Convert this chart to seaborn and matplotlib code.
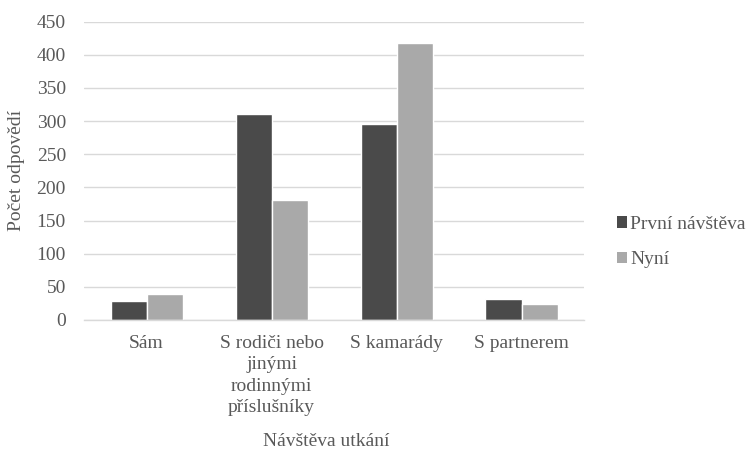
import matplotlib
matplotlib.use("Agg")
import matplotlib.pyplot as plt
import seaborn as sns
import pandas as pd
from matplotlib.patches import Patch

categories = ["Sám", "S rodiči nebo\njinými\nrodinnými\npříslušníky", "S kamarády", "S partnerem"]
prvni = [28, 310, 295, 31]
nyni = [39, 181, 418, 24]
series = ["První návštěva", "Nyní"]
colors = ["#4a4a4a", "#a9a9a9"]
yticks = [0, 50, 100, 150, 200, 250, 300, 350, 400, 450]

df = pd.DataFrame({
    "kategorie": categories * 2,
    "hodnota": prvni + nyni,
    "serie": [series[0]] * len(categories) + [series[1]] * len(categories),
})

sns.set_theme(style="white")
plt.rcParams["font.family"] = "serif"
plt.rcParams["font.serif"] = ["Liberation Serif", "DejaVu Serif"]
text_color = "#595959"

fig = plt.figure(figsize=(7.51, 4.71), dpi=100)
ax = fig.add_axes([84 / 751, 1 - 320 / 471, 500 / 751, 298.5 / 471])

sns.barplot(data=df, x="kategorie", y="hodnota", hue="serie", palette=colors,
            width=0.576, gap=0, saturation=1, ax=ax, legend=False)

ax.set_ylim(0, 450)
ax.set_yticks(yticks)
ax.set_xlim(-0.5, len(categories) - 0.5)
ax.yaxis.grid(True, color="#d9d9d9", linewidth=1)
ax.set_axisbelow(True)
for side in ["top", "right", "left"]:
    ax.spines[side].set_visible(False)
ax.spines["bottom"].set_color("#d9d9d9")
ax.spines["bottom"].set_linewidth(1)
ax.tick_params(axis="both", length=0, labelsize=14, colors=text_color)
ax.tick_params(axis="x", pad=11)
ax.tick_params(axis="y", pad=13)
for lbl in ax.get_xticklabels():
    lbl.set_linespacing(1.32)
ax.set_xlabel("")
ax.set_ylabel("Počet odpovědí", fontsize=14, color=text_color, labelpad=8)

fig.text(326 / 751, 1 - 441 / 471, "Návštěva utkání", ha="center", va="center",
         fontsize=14, color=text_color)

handles = [Patch(facecolor=c, edgecolor="none") for c in colors]
fig.legend(handles, series, loc="center left", bbox_to_anchor=(607 / 751, 1 - 242 / 471),
           frameon=False, fontsize=14, labelcolor=text_color, handlelength=0.55,
           handleheight=0.55, handletextpad=0.15, labelspacing=0.95, borderpad=0)

fig.savefig("out.png", dpi=100)
